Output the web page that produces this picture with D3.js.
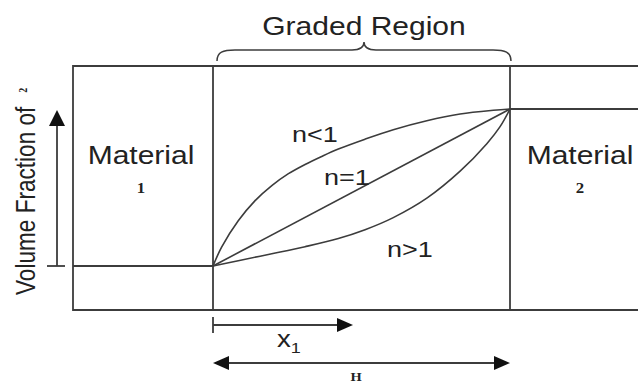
<!DOCTYPE html>
<html>
<head>
<meta charset="utf-8">
<script src="https://cdn.jsdelivr.net/npm/d3@7"></script>
<style>
  html, body { margin: 0; padding: 0; background: #fff; }
  svg { display: block; }
  text { font-family: "Liberation Sans", Arial, sans-serif; fill: #222; }
  .serif { font-family: "Liberation Serif", "Times New Roman", serif; font-weight: bold; }
</style>
</head>
<body>
<svg id="chart" width="638" height="384"></svg>
<script>
// Position across the graded region (0 = material 1 side, 1 = material 2 side)
// and volume fraction of material 2 for each grading exponent.
const posLinear = [0, 1];
const fracLinear = [0, 1];

const posBelow1 = [0, 0.029, 0.085, 0.141, 0.198, 0.254, 0.310, 0.366, 0.422, 0.512, 0.607, 0.720, 0.832, 0.944, 1];
const fracBelow1 = [0, 0.120, 0.288, 0.415, 0.512, 0.588, 0.647, 0.698, 0.745, 0.808, 0.868, 0.925, 0.968, 0.992, 1];

const posAbove1 = [0, 0.085, 0.198, 0.310, 0.422, 0.512, 0.607, 0.720, 0.832, 0.922, 0.966, 1];
const fracAbove1 = [0, 0.034, 0.078, 0.123, 0.175, 0.231, 0.308, 0.432, 0.604, 0.779, 0.886, 1];

const curveLabels = ["n<1", "n=1", "n>1"];
const materialNames = ["Material", "Material"];
const materialIds = ["1", "2"];

const svg = d3.select("#chart");
const ink = "#3c3c3c";
const SX = 1.2; // horizontal text stretch

// scales for the graded region
const x = d3.scaleLinear().domain([0, 1]).range([213, 510]);
const y = d3.scaleLinear().domain([0, 1]).range([266, 109]);

const frameLeft = 73, frameTop = 66, frameBottom = 310, frameRight = 640;

const g = svg.append("g").attr("fill", "none").attr("stroke", ink).attr("stroke-width", 1.8);

// outer frame
g.append("path").attr("d",
  `M${frameRight},${frameTop}H${frameLeft}V${frameBottom}H${frameRight}`);
// region dividers
g.append("line").attr("x1", x(0)).attr("x2", x(0)).attr("y1", frameTop).attr("y2", frameBottom);
g.append("line").attr("x1", x(1)).attr("x2", x(1)).attr("y1", frameTop).attr("y2", frameBottom);
// material levels on either side
g.append("line").attr("x1", frameLeft).attr("x2", x(0)).attr("y1", y(0)).attr("y2", y(0));
g.append("line").attr("x1", x(1)).attr("x2", frameRight).attr("y1", y(1)).attr("y2", y(1));

// grading curves
const line = d3.line().x(d => x(d[0])).y(d => y(d[1])).curve(d3.curveCatmullRom.alpha(0.5));
const curves = [
  d3.zip(posBelow1, fracBelow1),
  d3.zip(posLinear, fracLinear),
  d3.zip(posAbove1, fracAbove1)
];
g.selectAll("path.curve").data(curves).join("path")
  .attr("class", "curve")
  .attr("stroke-width", 1.6)
  .attr("d", line);

// labels of the curves
const labelPos = [[315, 142], [347, 185], [410, 257]];
svg.selectAll("text.nlab").data(curveLabels).join("text")
  .attr("class", "nlab")
  .attr("transform", (d, i) => `translate(${labelPos[i][0]},${labelPos[i][1]}) scale(${SX},1)`)
  .attr("text-anchor", "middle")
  .attr("font-size", 22.5)
  .text(d => d);

// material labels
const matX = [141, 580];
svg.selectAll("text.mat").data(materialNames).join("text")
  .attr("class", "mat")
  .attr("transform", (d, i) => `translate(${matX[i]},164) scale(${SX},1)`)
  .attr("text-anchor", "middle")
  .attr("font-size", 25)
  .text(d => d);
svg.selectAll("text.matid").data(materialIds).join("text")
  .attr("class", "matid serif")
  .attr("transform", (d, i) => `translate(${matX[i]},193) scale(${SX},1)`)
  .attr("text-anchor", "middle")
  .attr("font-size", 14)
  .text(d => d);

// title with brace over the graded region
svg.append("text")
  .attr("transform", `translate(364,35) scale(${SX},1)`)
  .attr("text-anchor", "middle")
  .attr("font-size", 25)
  .text("Graded Region");

const bl = x(0) + 4, br = x(1) + 1, bm = (bl + br) / 2, by = 50;
g.append("path")
  .attr("stroke-width", 1.5)
  .attr("d",
    `M${bl},61 C${bl},52 ${bl + 6},${by} ${bl + 18},${by}` +
    ` H${bm - 12} C${bm - 4},${by} ${bm},${by - 2} ${bm},42` +
    ` C${bm},${by - 2} ${bm + 4},${by} ${bm + 12},${by}` +
    ` H${br - 18} C${br - 6},${by} ${br},52 ${br},61`);

// arrowhead helper: tip at (tx,ty), pointing in direction (dx,dy)
function arrowHead(tx, ty, dx, dy, len = 16, half = 7) {
  const px = -dy, py = dx;
  const bx = tx - dx * len, by2 = ty - dy * len;
  return `M${tx},${ty}L${bx + px * half},${by2 + py * half}L${bx - px * half},${by2 - py * half}Z`;
}

// volume fraction arrow on the left
const vx = 57;
g.append("line").attr("x1", vx).attr("x2", vx).attr("y1", y(0)).attr("y2", y(1) + 10);
g.append("line").attr("x1", vx - 10).attr("x2", vx + 8).attr("y1", y(0)).attr("y2", y(0));
svg.append("path").attr("fill", "#111").attr("d", arrowHead(vx, y(1) + 1, 0, -1, 16, 8));

svg.append("text")
  .attr("transform", `translate(35,295) scale(${SX},1) rotate(-90)`)
  .attr("font-size", 22.6)
  .text("Volume Fraction of")
  .append("tspan")
  .attr("class", "serif")
  .attr("font-size", 10)
  .attr("dx", 14)
  .attr("dy", -7)
  .text("2");

// x1 arrow
const ax = 325;
g.append("line").attr("x1", x(0)).attr("x2", x(0)).attr("y1", ax - 8).attr("y2", ax + 8);
g.append("line").attr("x1", x(0)).attr("x2", 340).attr("y1", ax).attr("y2", ax);
svg.append("path").attr("fill", "#111").attr("d", arrowHead(353, ax, 1, 0, 16, 7));

const xl = svg.append("text")
  .attr("transform", `translate(277,347) scale(${SX},1)`)
  .attr("font-size", 23)
  .text("x");
xl.append("tspan").attr("font-size", 15).attr("dy", 6).text("1");

// H arrow spanning the graded region
const hy = 363;
g.append("line").attr("x1", x(0) + 12).attr("x2", x(1) - 12).attr("y1", hy).attr("y2", hy);
svg.append("path").attr("fill", "#111").attr("d", arrowHead(x(0), hy, -1, 0, 16, 7));
svg.append("path").attr("fill", "#111").attr("d", arrowHead(x(1), hy, 1, 0, 16, 7));

svg.append("text")
  .attr("class", "serif")
  .attr("transform", `translate(356,381) scale(${SX},1)`)
  .attr("text-anchor", "middle")
  .attr("font-size", 12)
  .text("H");
</script>
</body>
</html>
